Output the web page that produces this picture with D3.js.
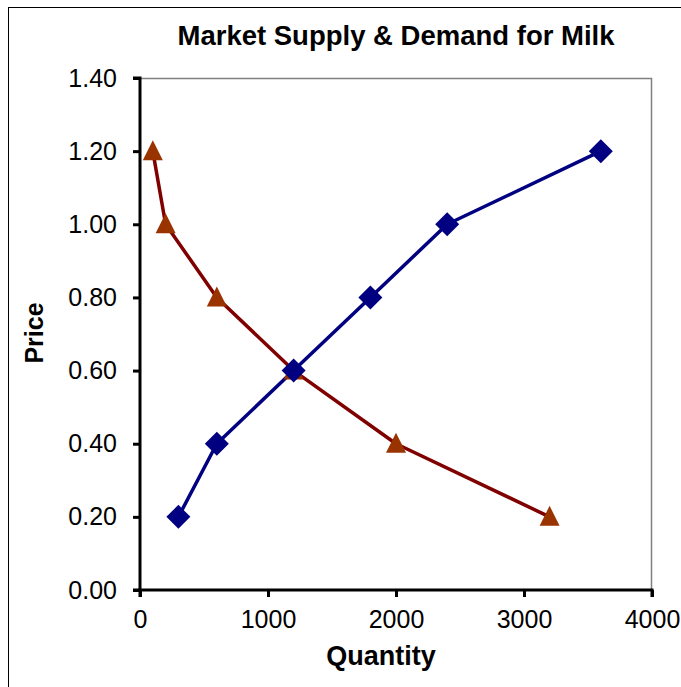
<!DOCTYPE html>
<html>
<head>
<meta charset="utf-8">
<script src="https://cdn.jsdelivr.net/npm/d3@7"></script>
<style>
  html, body { margin: 0; padding: 0; background: #fff; }
  svg { display: block; }
  text { font-family: "Liberation Sans", Arial, sans-serif; }
</style>
</head>
<body>
<svg id="chart" width="681" height="687"></svg>
<script>
// Market data for milk
const supplyQty   = [300, 600, 1200, 1800, 2400, 3600];
const supplyPrice = [0.2, 0.4, 0.6, 0.8, 1.0, 1.2];
const demandQty   = [100, 200, 600, 1200, 2000, 3200];
const demandPrice = [1.2, 1.0, 0.8, 0.6, 0.4, 0.2];
const xTicks = [0, 1000, 2000, 3000, 4000];
const yTicks = [0, 0.2, 0.4, 0.6, 0.8, 1.0, 1.2, 1.4];

const svg = d3.select("#chart");
const W = 681, H = 687;
const plot = { left: 140, right: 652, top: 78, bottom: 590 };

// Outer chart frame (runs past the right and bottom edges)
svg.append("rect")
  .attr("x", 8.5).attr("y", 7.5)
  .attr("width", W).attr("height", H)
  .attr("fill", "#fff").attr("stroke", "#000").attr("stroke-width", 1);

const x = d3.scaleLinear().domain([0, 4000]).range([plot.left, plot.right]);
const y = d3.scaleLinear().domain([0, 1.4]).range([plot.bottom, plot.top]);

// Plot area frame: thin grey on top and right
svg.append("path")
  .attr("d", `M${plot.left},${plot.top + 0.5}H${plot.right - 0.5}V${plot.bottom}`)
  .attr("fill", "none").attr("stroke", "#808080").attr("stroke-width", 1.5);

// Axes
const xAxis = d3.axisBottom(x).tickValues(xTicks).tickSize(7).tickPadding(13)
  .tickFormat(d3.format("d"));
const yAxis = d3.axisLeft(y).tickValues(yTicks).tickSize(7).tickPadding(16)
  .tickFormat(d3.format(".2f"));

const gx = svg.append("g").attr("transform", `translate(0,${plot.bottom})`).call(xAxis);
const gy = svg.append("g").attr("transform", `translate(${plot.left},0)`).call(yAxis);

[gx, gy].forEach(g => {
  g.select(".domain").attr("stroke", "#000").attr("stroke-width", 3);
  g.selectAll(".tick line").attr("stroke", "#000").attr("stroke-width", 3);
  g.selectAll(".tick text")
    .attr("fill", "#000")
    .style("font-family", "'Liberation Sans', Arial, sans-serif")
    .style("font-size", "25px");
});
gy.select(".domain").attr("d", `M-7,${plot.bottom}H0V${plot.top}H-7`);
gx.select(".domain").attr("d", `M${plot.left},7V0H${plot.right}V7`);
gx.selectAll(".tick text").attr("dy", "0.71em");

// Lines and markers
const supply = supplyQty.map((q, i) => ({ q, p: supplyPrice[i] }));
const demand = demandQty.map((q, i) => ({ q, p: demandPrice[i] }));
const line = d3.line().x(d => x(d.q)).y(d => y(d.p));

svg.append("path").datum(demand).attr("d", line)
  .attr("fill", "none").attr("stroke", "#800000").attr("stroke-width", 3.5)
  .attr("stroke-linejoin", "round");
svg.append("path").datum(supply).attr("d", line)
  .attr("fill", "none").attr("stroke", "#000080").attr("stroke-width", 3.5)
  .attr("stroke-linejoin", "round");

// Demand: triangles
svg.append("g").selectAll("path").data(demand).join("path")
  .attr("transform", d => `translate(${x(d.q)},${y(d.p)})`)
  .attr("d", "M0,-11L10,9L-10,9Z")
  .attr("fill", "#993300");

// Supply: diamonds
svg.append("g").selectAll("path").data(supply).join("path")
  .attr("transform", d => `translate(${x(d.q)},${y(d.p)})`)
  .attr("d", "M0,-12L12,0L0,12L-12,0Z")
  .attr("fill", "#000080");

// Titles
svg.append("text")
  .attr("x", 396).attr("y", 45)
  .attr("text-anchor", "middle")
  .style("font-size", "27.5px").style("font-weight", "bold")
  .text("Market Supply & Demand for Milk");

svg.append("text")
  .attr("x", 381).attr("y", 665)
  .attr("text-anchor", "middle")
  .style("font-size", "27px").style("font-weight", "bold")
  .text("Quantity");

svg.append("text")
  .attr("transform", "translate(43,333) rotate(-90)")
  .attr("text-anchor", "middle")
  .style("font-size", "25px").style("font-weight", "bold")
  .text("Price");
</script>
</body>
</html>
